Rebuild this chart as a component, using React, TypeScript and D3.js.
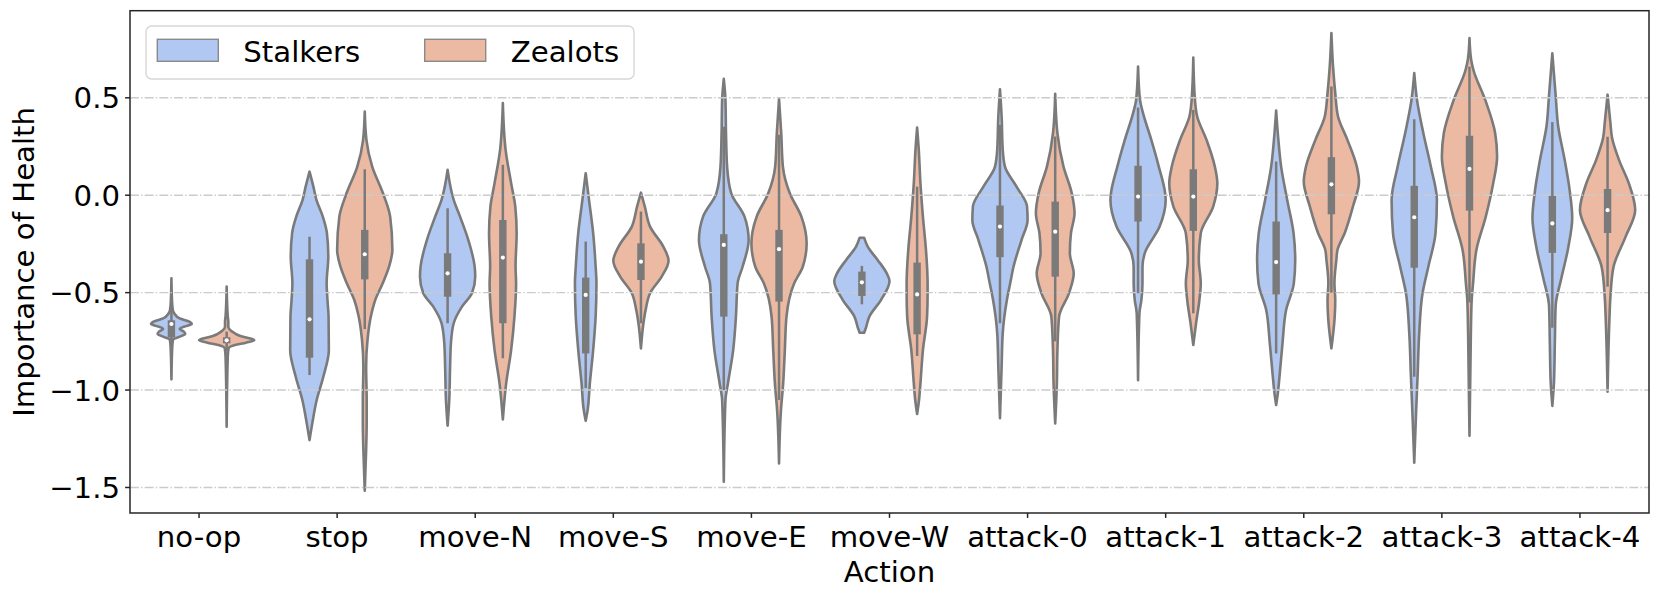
import React, { useEffect, useRef } from 'react';
import * as d3 from 'd3';

const actions = ['no-op', 'stop', 'move-N', 'move-S', 'move-E', 'move-W', 'attack-0', 'attack-1', 'attack-2', 'attack-3', 'attack-4'];
const groups = ['Stalkers', 'Zealots'];
const groupColors = ['#b1c8f2', '#ecb9a2'];
const yTicks = [0.5, 0.0, -0.5, -1.0, -1.5];

// inner box per action: [lower whisker, q1, median, q3, upper whisker]
const stalkersBox = [
  [-0.82, -0.729, -0.661, -0.642, -0.56],
  [-0.923, -0.834, -0.637, -0.329, -0.213],
  [-0.657, -0.521, -0.401, -0.298, -0.067],
  [-0.99, -0.812, -0.512, -0.423, -0.238],
  [-1.0, -0.623, -0.255, -0.2, 0.352],
  [-0.56, -0.517, -0.447, -0.392, -0.363],
  [-0.657, -0.318, -0.161, -0.053, 0.361],
  [-0.503, -0.135, -0.007, 0.151, 0.45],
  [-0.812, -0.509, -0.343, -0.135, 0.173],
  [-0.932, -0.372, -0.113, 0.048, 0.39],
  [-0.68, -0.296, -0.145, -0.004, 0.375],
];
const zealotsBox = [
  [-0.8, -0.76, -0.745, -0.729, -0.7],
  [-0.687, -0.432, -0.303, -0.178, 0.133],
  [-0.837, -0.657, -0.32, -0.127, 0.156],
  [-0.657, -0.435, -0.341, -0.247, -0.084],
  [-1.051, -0.546, -0.277, -0.178, 0.31],
  [-0.825, -0.714, -0.509, -0.346, 0.044],
  [-0.75, -0.418, -0.187, -0.033, 0.301],
  [-0.606, -0.183, -0.007, 0.133, 0.438],
  [-0.5, -0.098, 0.056, 0.195, 0.558],
  [-0.55, -0.079, 0.135, 0.305, 0.66],
  [-0.469, -0.194, -0.077, 0.032, 0.3],
];

// violin outline per action: [value, relative half-width]
const stalkersShape = [
  [[-0.426, 0], [-0.538, 0.02], [-0.589, 0.05], [-0.606, 0.1], [-0.632, 0.3], [-0.649, 0.65], [-0.661, 0.74], [-0.675, 0.45], [-0.687, 0.3], [-0.7, 0.45], [-0.712, 0.5], [-0.726, 0.3], [-0.74, 0.06], [-0.778, 0.03], [-0.945, 0]],
  [[0.121, 0], [0.044, 0.14], [-0.024, 0.25], [-0.11, 0.48], [-0.195, 0.63], [-0.315, 0.68], [-0.452, 0.62], [-0.538, 0.65], [-0.623, 0.69], [-0.795, 0.7], [-0.932, 0.5], [-1.051, 0.26], [-1.171, 0.1], [-1.257, 0]],
  [[0.13, 0], [-0.024, 0.22], [-0.11, 0.45], [-0.23, 0.75], [-0.367, 0.98], [-0.418, 1.0], [-0.503, 0.88], [-0.572, 0.52], [-0.657, 0.22], [-0.76, 0.12], [-0.88, 0.09], [-1.051, 0.06], [-1.183, 0]],
  [[0.113, 0], [-0.024, 0.12], [-0.195, 0.27], [-0.367, 0.36], [-0.452, 0.39], [-0.623, 0.36], [-0.795, 0.27], [-0.966, 0.15], [-1.103, 0.07], [-1.158, 0]],
  [[0.597, 0], [0.489, 0.06], [0.318, 0.08], [0.147, 0.12], [0.01, 0.27], [-0.11, 0.75], [-0.23, 0.9], [-0.367, 0.68], [-0.452, 0.5], [-0.623, 0.44], [-0.795, 0.34], [-0.966, 0.15], [-1.051, 0.06], [-1.471, 0]],
  [[-0.218, 0.08], [-0.264, 0.21], [-0.332, 0.57], [-0.401, 0.9], [-0.44, 1.0], [-0.538, 0.69], [-0.623, 0.27], [-0.683, 0.14], [-0.706, 0.08]],
  [[0.544, 0], [0.404, 0.06], [0.233, 0.1], [0.147, 0.18], [0.044, 0.6], [-0.058, 0.98], [-0.127, 1.0], [-0.23, 0.78], [-0.367, 0.49], [-0.452, 0.37], [-0.538, 0.25], [-0.709, 0.1], [-0.88, 0.06], [-1.145, 0]],
  [[0.66, 0], [0.489, 0.07], [0.421, 0.18], [0.284, 0.48], [0.147, 0.75], [0.01, 0.98], [-0.024, 1.0], [-0.161, 0.78], [-0.298, 0.24], [-0.367, 0.16], [-0.452, 0.16], [-0.538, 0.12], [-0.605, 0.05], [-0.949, 0]],
  [[0.435, 0], [0.318, 0.06], [0.147, 0.18], [-0.024, 0.4], [-0.195, 0.63], [-0.332, 0.69], [-0.452, 0.64], [-0.589, 0.36], [-0.76, 0.23], [-0.932, 0.12], [-1.017, 0.06], [-1.077, 0]],
  [[0.627, 0], [0.489, 0.1], [0.318, 0.33], [0.147, 0.6], [-0.024, 0.82], [-0.195, 0.77], [-0.367, 0.51], [-0.503, 0.3], [-0.709, 0.18], [-0.932, 0.12], [-1.103, 0.07], [-1.373, 0]],
  [[0.728, 0], [0.513, 0.12], [0.355, 0.21], [0.179, 0.45], [0.022, 0.63], [-0.116, 0.72], [-0.273, 0.57], [-0.43, 0.32], [-0.567, 0.12], [-0.763, 0.09], [-0.959, 0.06], [-1.081, 0]],
];
const zealotsShape = [
  [[-0.469, 0], [-0.623, 0.04], [-0.649, 0.06], [-0.675, 0.06], [-0.7, 0.2], [-0.723, 0.5], [-0.735, 0.85], [-0.745, 1.0], [-0.757, 0.7], [-0.769, 0.3], [-0.786, 0.07], [-0.829, 0.04], [-1.188, 0]],
  [[0.429, 0], [0.284, 0.06], [0.147, 0.27], [0.01, 0.66], [-0.11, 0.92], [-0.281, 1.0], [-0.367, 0.88], [-0.452, 0.65], [-0.538, 0.38], [-0.623, 0.22], [-0.743, 0.1], [-0.88, 0.05], [-1.051, 0.07], [-1.171, 0.07], [-1.308, 0.05], [-1.517, 0]],
  [[0.473, 0], [0.233, 0.1], [0.062, 0.3], [-0.058, 0.45], [-0.195, 0.5], [-0.367, 0.46], [-0.452, 0.48], [-0.623, 0.42], [-0.795, 0.3], [-0.966, 0.12], [-1.151, 0]],
  [[0.013, 0], [-0.058, 0.14], [-0.161, 0.33], [-0.264, 0.81], [-0.336, 1.0], [-0.418, 0.75], [-0.503, 0.33], [-0.589, 0.17], [-0.657, 0.09], [-0.786, 0]],
  [[0.495, 0], [0.318, 0.08], [0.147, 0.14], [0.01, 0.39], [-0.11, 0.81], [-0.247, 1.0], [-0.367, 0.86], [-0.452, 0.55], [-0.623, 0.27], [-0.795, 0.21], [-0.966, 0.15], [-1.103, 0.07], [-1.377, 0]],
  [[0.347, 0], [0.233, 0.06], [0.062, 0.12], [-0.11, 0.21], [-0.281, 0.32], [-0.367, 0.36], [-0.452, 0.38], [-0.503, 0.38], [-0.623, 0.36], [-0.795, 0.21], [-0.966, 0.12], [-1.05, 0.07], [-1.123, 0]],
  [[0.52, 0], [0.318, 0.08], [0.147, 0.3], [0.01, 0.6], [-0.093, 0.7], [-0.195, 0.57], [-0.298, 0.53], [-0.401, 0.67], [-0.503, 0.5], [-0.623, 0.14], [-0.795, 0.08], [-0.966, 0.06], [-1.171, 0]],
  [[0.707, 0], [0.489, 0.06], [0.404, 0.14], [0.284, 0.48], [0.147, 0.78], [0.062, 0.87], [-0.058, 0.72], [-0.195, 0.27], [-0.332, 0.2], [-0.452, 0.27], [-0.538, 0.22], [-0.657, 0.1], [-0.769, 0]],
  [[0.832, 0], [0.66, 0.06], [0.524, 0.14], [0.404, 0.24], [0.284, 0.58], [0.147, 0.92], [0.07, 1.0], [-0.058, 0.78], [-0.195, 0.48], [-0.281, 0.22], [-0.332, 0.18], [-0.452, 0.11], [-0.538, 0.14], [-0.623, 0.12], [-0.786, 0]],
  [[0.806, 0], [0.695, 0.06], [0.644, 0.14], [0.489, 0.57], [0.318, 0.93], [0.198, 1.0], [0.062, 0.86], [-0.11, 0.59], [-0.281, 0.25], [-0.452, 0.13], [-0.538, 0.08], [-0.709, 0.05], [-1.235, 0]],
  [[0.516, 0], [0.375, 0.1], [0.296, 0.16], [0.179, 0.42], [0.061, 0.77], [-0.076, 1.0], [-0.214, 0.65], [-0.371, 0.21], [-0.528, 0.1], [-0.665, 0.06], [-1.009, 0]],
];

const plot = { left: 130, right: 1649, top: 10.7, bottom: 513 };
const font = "'DejaVu Sans', sans-serif";
const fontSize = '29.2px';
const gray = '#7a7a7a';

const App = () => {
  const ref = useRef<SVGSVGElement>(null);

  useEffect(() => {
    const svg = d3.select(ref.current);
    svg.selectAll('*').remove();

    const x = d3.scaleBand().domain(actions).range([plot.left, plot.right]);
    const bw = x.bandwidth();
    const hue = d3.scaleBand().domain(groups).range([-0.4 * bw, 0.4 * bw]);
    const y = d3.scaleLinear().domain([-1.631, 0.947]).range([plot.bottom, plot.top]);
    const w = d3.scaleLinear().domain([0, 1]).range([0, 0.2 * bw]);
    const fmt = d3.format('.1f');

    // violins
    const series = [
      { name: groups[0], color: groupColors[0], box: stalkersBox, shape: stalkersShape },
      { name: groups[1], color: groupColors[1], box: zealotsBox, shape: zealotsShape },
    ];
    const violins = svg.append('g');
    const inner = svg.append('g');
    series.forEach(s => {
      actions.forEach((a, i) => {
        const cx = (x(a) as number) + bw / 2 + (hue(s.name) as number) + hue.bandwidth() / 2;
        const pts = [...s.shape[i]].sort((p, q) => q[0] - p[0]);
        const area = d3.area<number[]>()
          .curve(d3.curveMonotoneY)
          .y(d => y(d[0]))
          .x0(d => cx - w(d[1]))
          .x1(d => cx + w(d[1]));
        violins.append('path')
          .attr('d', area(pts) as string)
          .attr('fill', s.color)
          .attr('stroke', gray)
          .attr('stroke-width', 2.6)
          .attr('stroke-linejoin', 'round');

        const [lo, q1, med, q3, hi] = s.box[i];
        inner.append('line')
          .attr('x1', cx).attr('x2', cx)
          .attr('y1', y(lo)).attr('y2', y(hi))
          .attr('stroke', gray).attr('stroke-width', 2.5);
        inner.append('rect')
          .attr('x', cx - 3.7).attr('width', 7.4)
          .attr('y', y(q3)).attr('height', y(q1) - y(q3))
          .attr('fill', gray);
        inner.append('circle')
          .attr('cx', cx).attr('cy', y(med)).attr('r', 2.1)
          .attr('fill', 'white');
      });
    });

    // grid (drawn over the violin bodies, under the inner boxes)
    svg.insert('g', () => inner.node())
      .selectAll('line').data(yTicks).join('line')
      .attr('x1', plot.left).attr('x2', plot.right)
      .attr('y1', d => y(d)).attr('y2', d => y(d))
      .attr('stroke', '#cbcbcb').attr('stroke-width', 1.4)
      .attr('stroke-dasharray', '8.9,2.2,1.4,2.2');

    // frame
    svg.append('rect')
      .attr('x', plot.left).attr('y', plot.top)
      .attr('width', plot.right - plot.left).attr('height', plot.bottom - plot.top)
      .attr('fill', 'none').attr('stroke', '#262626').attr('stroke-width', 1.5);

    // y axis
    const yAxis = svg.append('g');
    yTicks.forEach(t => {
      yAxis.append('line')
        .attr('x1', plot.left - 4.9).attr('x2', plot.left)
        .attr('y1', y(t)).attr('y2', y(t))
        .attr('stroke', '#262626').attr('stroke-width', 1.5);
      yAxis.append('text')
        .attr('x', plot.left - 10).attr('y', y(t)).attr('dy', '0.36em')
        .attr('text-anchor', 'end')
        .style('font-family', font).style('font-size', fontSize)
        .text(fmt(t));
    });

    // x axis
    const xAxis = svg.append('g');
    actions.forEach(a => {
      const cx = (x(a) as number) + bw / 2;
      xAxis.append('line')
        .attr('x1', cx).attr('x2', cx)
        .attr('y1', plot.bottom).attr('y2', plot.bottom + 4.9)
        .attr('stroke', '#262626').attr('stroke-width', 1.5);
      xAxis.append('text')
        .attr('x', cx).attr('y', 547)
        .attr('text-anchor', 'middle')
        .style('font-family', font).style('font-size', fontSize)
        .text(a);
    });

    svg.append('text')
      .attr('x', (plot.left + plot.right) / 2).attr('y', 582)
      .attr('text-anchor', 'middle')
      .style('font-family', font).style('font-size', fontSize)
      .text('Action');
    svg.append('text')
      .attr('transform', `translate(33.5, ${(plot.top + plot.bottom) / 2}) rotate(-90)`)
      .attr('text-anchor', 'middle')
      .style('font-family', font).style('font-size', fontSize)
      .text('Importance of Health');

    // legend
    const legend = svg.append('g');
    legend.append('rect')
      .attr('x', 146).attr('y', 26).attr('width', 488).attr('height', 53)
      .attr('rx', 5.6)
      .attr('fill', 'white').attr('fill-opacity', 0.8)
      .attr('stroke', '#d6d6d6').attr('stroke-width', 1.4);
    const legendX = [157.3, 424.7];
    groups.forEach((g, i) => {
      legend.append('rect')
        .attr('x', legendX[i]).attr('y', 39.3).attr('width', 61).attr('height', 22)
        .attr('fill', groupColors[i]).attr('stroke', '#8a8a8a').attr('stroke-width', 1.4);
      legend.append('text')
        .attr('x', legendX[i] + 86).attr('y', 61.5)
        .style('font-family', font).style('font-size', fontSize)
        .text(g);
    });
  }, []);

  return (
    <svg
      ref={ref}
      width={1660}
      height={600}
      style={{ position: 'absolute', left: 0, top: 0, background: 'white' }}
    />
  );
};

export default App;
